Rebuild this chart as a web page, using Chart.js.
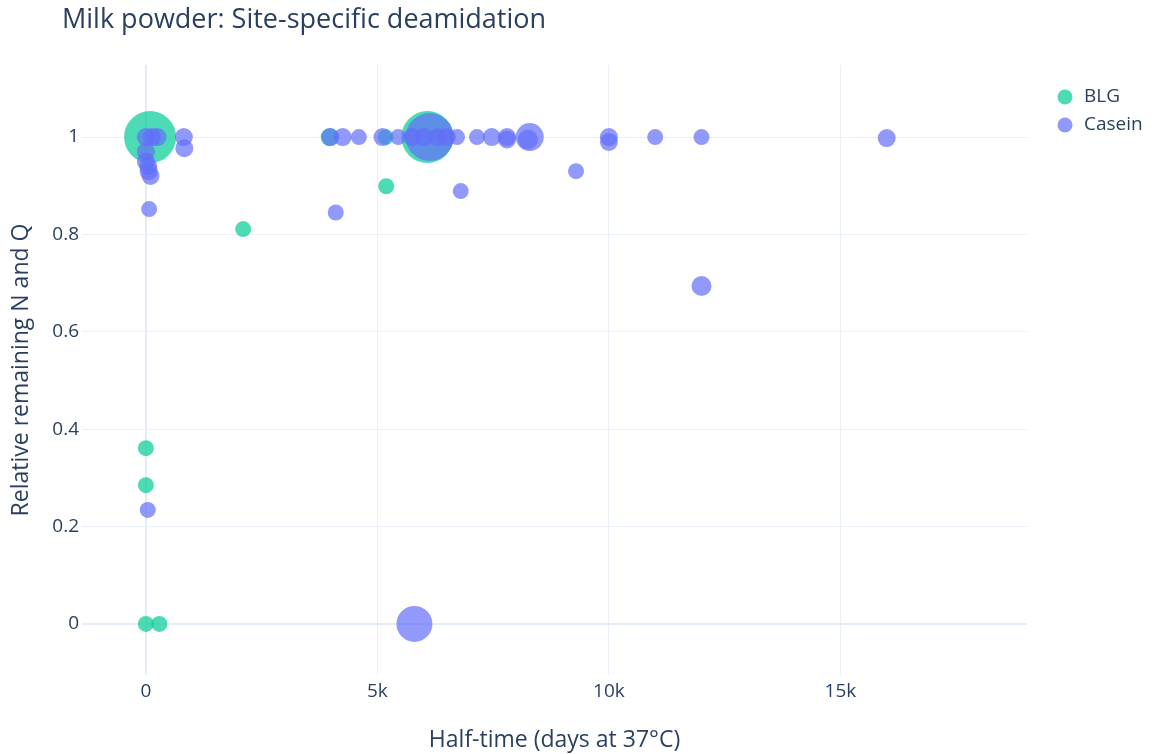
<!DOCTYPE html>
<html>
<head>
<meta charset="utf-8">
<script src="https://cdn.jsdelivr.net/npm/chart.js@4/dist/chart.umd.min.js"></script>
<style>
  body { margin: 0; background: #fff; }
  canvas { display: block; }
</style>
</head>
<body>
<canvas id="chart" width="1159" height="754"></canvas>
<script>
// BLG sites
const blgX = [90, 0, 0, 0, 290, 2100, 3970, 5180, 5190, 6080];
const blgY = [1, 0.361, 0.285, 0, 0, 0.811, 1, 1, 0.899, 1];
const blgR = [26, 8, 8, 8, 8, 8, 9, 8, 8, 26];

// Casein sites
const caseinX = [0, 130, 250, 0, 0, 50, 60, 100, 820, 830, 70, 40,
    3980, 4250, 4600, 5110, 5450, 5750, 6000, 6130, 6300, 6500, 6720, 7150, 7470, 7800, 7800, 8290, 8250,
    10000, 10000, 11000, 12000, 16000, 9290, 6800, 4100, 12000, 5800];
const caseinY = [1, 1, 1, 0.97, 0.95, 0.94, 0.93, 0.92, 1, 0.977, 0.852, 0.234,
    1, 1, 1, 1, 1, 1, 1, 1, 1, 1, 1, 1, 1, 1, 0.995, 1, 0.995,
    1, 0.99, 1, 1, 0.998, 0.93, 0.889, 0.845, 0.694, 0];
const caseinR = [9, 9, 9, 9, 9, 9, 9, 9, 9, 9, 8, 8,
    9, 9, 8, 9, 8, 9, 9, 24, 9, 9, 8, 8, 9, 9, 9, 14, 10,
    9, 9, 8, 8, 9, 8, 8, 8, 10, 18];

const xTicks = [0, 5000, 10000, 15000];
const yTicks = [0, 0.2, 0.4, 0.6, 0.8, 1];

const seriesNames = ["BLG", "Casein"];
const seriesColors = ["rgba(0, 204, 150, 0.7)", "rgba(99, 110, 250, 0.7)"];

const textColor = "#2a3f5f";
const gridColor = "#ebf0f8";
const fontFamily = "'Open Sans', verdana, arial, sans-serif";

function toPoints(xs, ys, rs) {
    return xs.map((x, i) => ({ x: x, y: ys[i], r: rs[i] }));
}

// title + legend drawn straight on the canvas
const decorations = {
    id: "decorations",
    afterDraw(chart) {
        const ctx = chart.ctx;
        ctx.save();
        ctx.fillStyle = textColor;
        ctx.textBaseline = "middle";
        ctx.textAlign = "left";
        ctx.font = "27px " + fontFamily;
        ctx.fillText("Milk powder: Site-specific deamidation", 62, 20);

        ctx.font = "19px " + fontFamily;
        seriesNames.forEach((name, i) => {
            const y = 97 + i * 28;
            ctx.fillStyle = seriesColors[i];
            ctx.beginPath();
            ctx.arc(1065, y, 7.5, 0, Math.PI * 2);
            ctx.fill();
            ctx.fillStyle = textColor;
            ctx.fillText(name, 1084, y);
        });
        ctx.restore();
    }
};

new Chart(document.getElementById("chart"), {
    type: "bubble",
    data: {
        datasets: [
            {
                label: seriesNames[0],
                data: toPoints(blgX, blgY, blgR),
                backgroundColor: seriesColors[0],
                borderWidth: 0,
                order: 1
            },
            {
                label: seriesNames[1],
                data: toPoints(caseinX, caseinY, caseinR),
                backgroundColor: seriesColors[1],
                borderWidth: 0,
                order: 0
            }
        ]
    },
    options: {
        responsive: false,
        animation: false,
        clip: false,
        layout: { padding: { top: 65, right: 132, bottom: 0, left: 0 } },
        plugins: {
            legend: { display: false },
            tooltip: { enabled: false }
        },
        scales: {
            x: {
                type: "linear",
                min: -1380,
                max: 19030,
                border: { display: false },
                grid: {
                    color: ctx => ctx.tick && ctx.tick.value === 0 ? "#e6ecf5" : gridColor,
                    lineWidth: ctx => ctx.tick && ctx.tick.value === 0 ? 2 : 1,
                    drawTicks: false
                },
                afterBuildTicks: scale => { scale.ticks = xTicks.map(v => ({ value: v })); },
                afterFit: scale => { scale.height = 79; },
                ticks: {
                    padding: 5,
                    color: textColor,
                    font: { family: fontFamily, size: 19 },
                    callback: v => v === 0 ? "0" : (v / 1000) + "k"
                },
                title: {
                    display: true,
                    text: "Half-time (days at 37°C)",
                    color: textColor,
                    font: { family: fontFamily, size: 23 },
                    padding: { top: 2, bottom: 0 }
                }
            },
            y: {
                type: "linear",
                min: -0.105,
                max: 1.148,
                border: { display: false },
                grid: {
                    color: ctx => ctx.tick && ctx.tick.value === 0 ? "#e6ecf5" : gridColor,
                    lineWidth: ctx => ctx.tick && ctx.tick.value === 0 ? 2 : 1,
                    drawTicks: false
                },
                afterBuildTicks: scale => { scale.ticks = yTicks.map(v => ({ value: v })); },
                afterFit: scale => { scale.width = 82; },
                ticks: {
                    padding: 3,
                    color: textColor,
                    font: { family: fontFamily, size: 19 },
                    callback: v => String(Math.round(v * 10) / 10)
                },
                title: {
                    display: true,
                    text: "Relative remaining N and Q",
                    color: textColor,
                    font: { family: fontFamily, size: 23 },
                    padding: { top: 8, bottom: 0 }
                }
            }
        }
    },
    plugins: [decorations]
});
</script>
</body>
</html>
